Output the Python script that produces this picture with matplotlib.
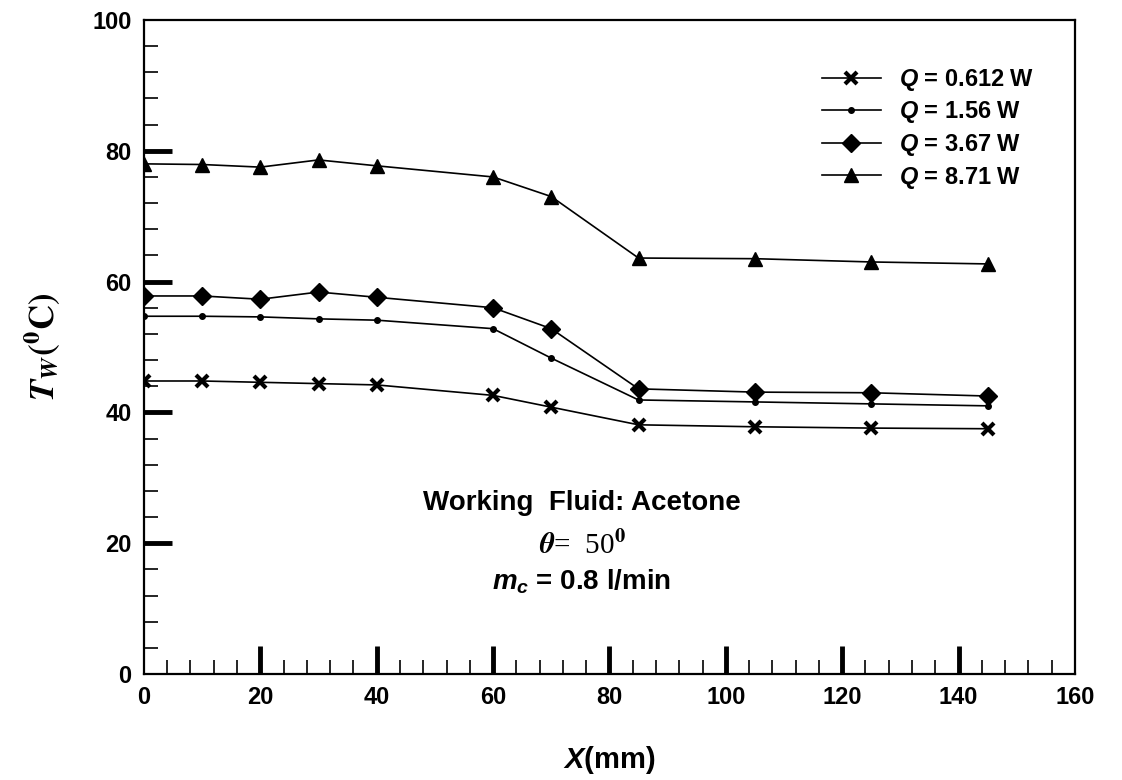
import numpy as np
import matplotlib.pyplot as plt
from matplotlib.ticker import MultipleLocator

plt.rcParams['font.family'] = 'Liberation Sans'
plt.rcParams['font.weight'] = 'bold'
plt.rcParams['mathtext.fontset'] = 'custom'
plt.rcParams['mathtext.rm'] = 'Liberation Sans:bold'
plt.rcParams['mathtext.it'] = 'Liberation Sans:italic:bold'
plt.rcParams['mathtext.bf'] = 'Liberation Sans:bold'

# axial positions (mm)
x_mm = [0, 10, 20, 30, 40, 60, 70, 85, 105, 125, 145]

# wall temperatures (deg C) for each heat input
T_q0612 = [44.8, 44.8, 44.6, 44.4, 44.2, 42.6, 40.8, 38.1, 37.8, 37.6, 37.5]
T_q156 = [54.7, 54.7, 54.6, 54.3, 54.1, 52.8, 48.3, 41.9, 41.6, 41.3, 41.0]
T_q367 = [57.8, 57.8, 57.3, 58.4, 57.6, 56.0, 52.8, 43.6, 43.1, 43.0, 42.5]
T_q871 = [78.0, 77.9, 77.5, 78.6, 77.7, 76.0, 73.0, 63.6, 63.5, 63.0, 62.7]

labels = [r'$Q$ = 0.612 W', r'$Q$ = 1.56 W', r'$Q$ = 3.67 W', r'$Q$ = 8.71 W']

fig = plt.figure(figsize=(11.22, 7.8), dpi=100)
ax = fig.add_axes([0.1283, 0.1359, 0.8297, 0.8385])

lw = 1.2
ax.plot(x_mm, T_q0612, color='black', lw=lw, marker='x', ms=9, mew=3, label=labels[0])
ax.plot(x_mm, T_q156, color='black', lw=lw, marker='o', ms=4, label=labels[1])
ax.plot(x_mm, T_q367, color='black', lw=lw, marker='D', ms=9, label=labels[2])
ax.plot(x_mm, T_q871, color='black', lw=lw, marker='^', ms=10, label=labels[3])

ax.set_xlim(0, 160)
ax.set_ylim(0, 100)
ax.xaxis.set_major_locator(MultipleLocator(20))
ax.xaxis.set_minor_locator(MultipleLocator(4))
ax.yaxis.set_major_locator(MultipleLocator(20))
ax.yaxis.set_minor_locator(MultipleLocator(4))
ax.tick_params(which='major', direction='in', length=20, width=3.5, labelsize=17, pad=9)
ax.tick_params(which='minor', direction='in', length=10, width=1.2)
for lab in ax.get_xticklabels() + ax.get_yticklabels():
    lab.set_fontweight('bold')
for s in ax.spines.values():
    s.set_linewidth(1.6)

fig.canvas.draw()
# no thick tick marks at the ends of the axes
for t in ax.xaxis.get_major_ticks():
    if t.get_loc() in (0, 160):
        t.tick1line.set_visible(False)
for t in ax.yaxis.get_major_ticks():
    if t.get_loc() in (0, 100):
        t.tick1line.set_visible(False)

ax.legend(loc='upper left', bbox_to_anchor=(810 / 1122, 1 - 55 / 780),
          bbox_transform=fig.transFigure, frameon=False,
          handlelength=2.5, handletextpad=0.75, labelspacing=0.28, borderpad=0,
          prop={'weight': 'bold', 'size': 17})

xc = 75.3
ax.text(xc, 26.1, 'Working  Fluid: Acetone', ha='center', va='center',
        fontsize=20, fontweight='bold')
ax.text(xc, 19.7, r'$\theta$=  50$^0$', ha='center', va='center', fontsize=21,
        family='Liberation Serif', fontweight='normal', math_fontfamily='stix')
ax.text(xc, 14.1, r'$m_c$ = 0.8 l/min', ha='center', va='center',
        fontsize=20, fontweight='bold')

ax.set_xlabel(r'$X$(mm)', fontsize=21, fontweight='bold', labelpad=25)
ax.set_ylabel(r'$\mathbfit{T}_{\mathbfit{W}}\mathbf{(^{0}C)}$', fontsize=25,
              math_fontfamily='stix', labelpad=22)

fig.savefig('out.png', dpi=100)
